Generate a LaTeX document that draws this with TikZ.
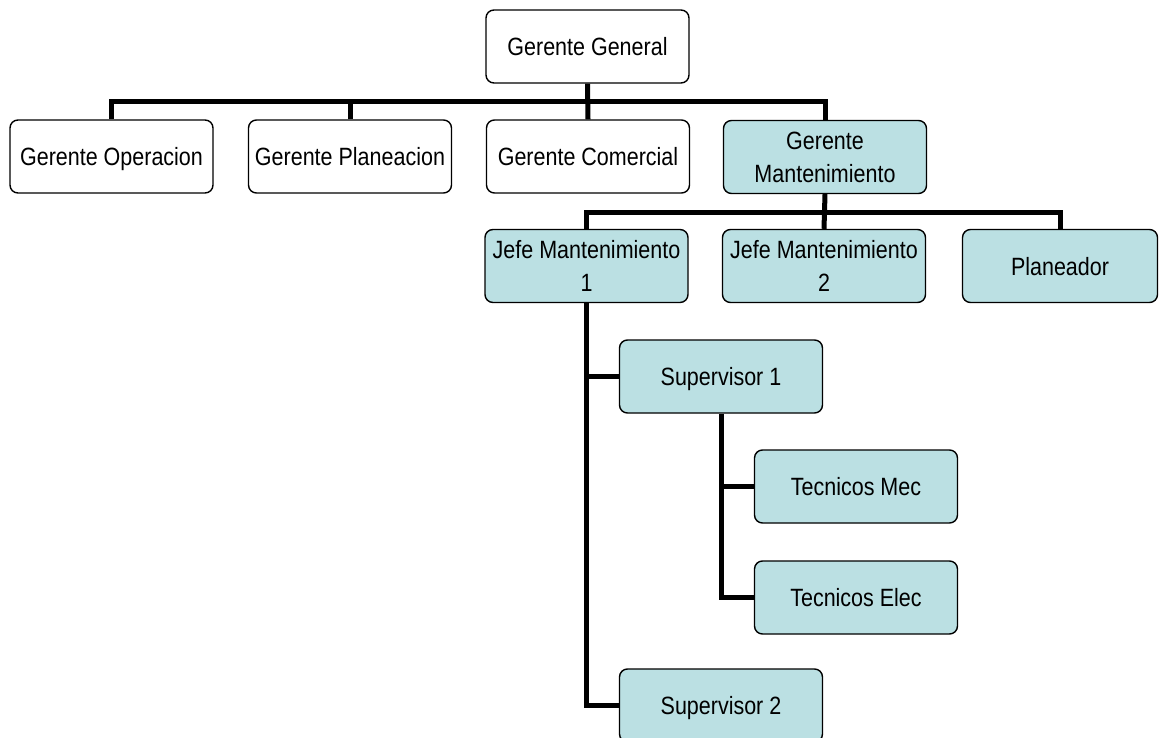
\documentclass[tikz,border=0pt]{standalone}
\usepackage{fontspec}
\setmainfont{Liberation Sans}[FakeStretch=0.86]
\begin{document}
\begin{tikzpicture}[x=1pt,y=-1pt,
  unit/.style={draw=black, line width=1.4pt, rounded corners=8pt,
    minimum width=203pt, minimum height=73pt, inner sep=0pt,
    align=center, font=\fontsize{25}{33}\selectfont},
  oneline/.style={text height=18pt, text depth=0pt},
  plain/.style={unit, fill=white},
  maint/.style={unit, fill=boxcyan},
  link/.style={line width=5pt, line join=miter, line cap=butt}]
\definecolor{boxcyan}{RGB}{187,224,227}
\useasboundingbox (0,0) rectangle (1159,738);
\fill[white] (0,0) rectangle (1159,738);

% top management
\node[plain, oneline] (gg) at (587.5,46.5) {Gerente General};
\node[plain, oneline] (op) at (111.5,156.5) {Gerente Operacion};
\node[plain, oneline] (pl) at (350,156.5) {Gerente Planeacion};
\node[plain, oneline] (co) at (588,156.5) {Gerente Comercial};
\node[maint] (ma) at (825,157) {Gerente\\Mantenimiento};

% maintenance heads
\node[maint] (j1) at (586.5,266) {Jefe Mantenimiento\\1};
\node[maint] (j2) at (824,266) {Jefe Mantenimiento\\2};
\node[maint, oneline, minimum width=195pt] (pd) at (1060,266) {Planeador};

% supervisors and technicians
\node[maint, oneline] (s1) at (721,376.5) {Supervisor 1};
\node[maint, oneline] (tm) at (856,486.5) {Tecnicos Mec};
\node[maint, oneline] (te) at (856,597.5) {Tecnicos Elec};
\node[maint, oneline] (s2) at (721,705.5) {Supervisor 2};

% connectors
\coordinate (bar1) at (0,102);
\coordinate (bar2) at (0,213);
\draw[link] (op.north) -- (op.north |- bar1) -- (ma.north |- bar1) -- (ma.north);
\draw[link] (pl.north) -- (pl.north |- bar1);
\draw[link] (gg.south) -- (co.north);

\draw[link] (j1.north) -- (j1.north |- bar2) -- (pd.north |- bar2) -- (pd.north);
\draw[link] (ma.south) -- (j2.north);

\draw[link] (j1.south) |- (s2.west);
\draw[link] (s1.west) -- (s1.west -| j1.south);

\draw[link] (s1.south) |- (te.west);
\draw[link] (tm.west) -- (tm.west -| s1.south);
\end{tikzpicture}
\end{document}
